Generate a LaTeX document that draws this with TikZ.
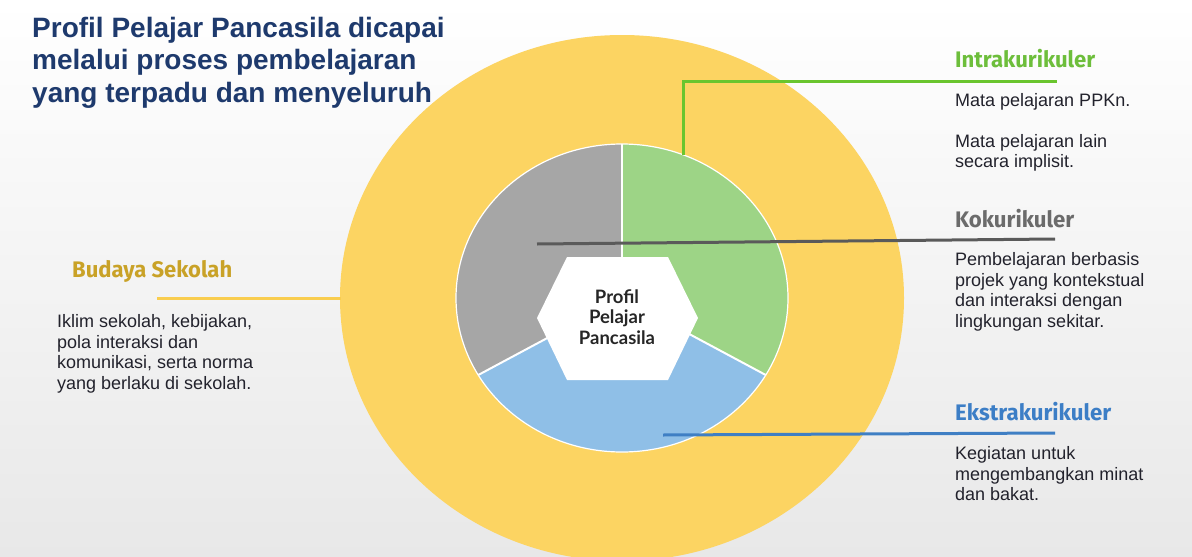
\documentclass[tikz,border=0pt]{standalone}
\usepackage{fontspec}
\usepackage{graphicx}
\setmainfont{Liberation Sans}
\newfontfamily\headfont{Fira Sans}
\newfontfamily\latofont{Lato}
\usetikzlibrary{calc}
\definecolor{ringyellow}{HTML}{FCD462}
\definecolor{piegreen}{HTML}{9DD486}
\definecolor{piegray}{HTML}{A6A6A6}
\definecolor{pieblue}{HTML}{8FBFE7}
\definecolor{lgreen}{HTML}{6AC52E}
\definecolor{lgray}{HTML}{5A5A5A}
\definecolor{lblue}{HTML}{3F7FC4}
\definecolor{lyellow}{HTML}{F9CD4F}
\definecolor{titleblue}{HTML}{1E3A6D}
\definecolor{hgreen}{HTML}{6DBE3B}
\definecolor{hgray}{HTML}{6B6B6B}
\definecolor{hblue}{HTML}{3C7EC6}
\definecolor{hgold}{HTML}{C9A227}
\definecolor{bodytext}{HTML}{22222C}
\tikzset{
  bodytxt/.style={anchor=north west, inner sep=0pt, align=left, text=bodytext,
    font=\fontsize{18}{20.8}\selectfont},
  headtxt/.style={anchor=base west, inner sep=0pt},
  connector/.style={line width=3pt},
  sector/.style={draw=white, line width=1.5pt}
}
\newcommand{\headtext}[3]{\resizebox{#1pt}{\height}{\headfont\bfseries\fontsize{22.5}{26}\selectfont\color{#2}#3}}
\begin{document}
\begin{tikzpicture}[x=1pt,y=1pt]
\useasboundingbox (0,0) rectangle (1192,-557);
\shade[top color=white, bottom color=black!9] (0,0) rectangle (1192,-557);
\begin{scope}
\clip (0,0) rectangle (1192,-557);
\fill[ringyellow] (622,-298) ellipse [x radius=282, y radius=263];
\end{scope}
% pie
\coordinate (pc) at (622,-298);
\fill[piegreen] (pc) -- ($(pc)+(90:166 and 154)$) arc[start angle=90, end angle=-30, x radius=166, y radius=154] -- cycle;
\fill[pieblue] (pc) -- ($(pc)+(-30:166 and 154)$) arc[start angle=-30, end angle=-150, x radius=166, y radius=154] -- cycle;
\fill[piegray] (pc) -- ($(pc)+(210:166 and 154)$) arc[start angle=210, end angle=90, x radius=166, y radius=154] -- cycle;
\draw[white, line width=1.2pt] (pc) ellipse [x radius=166, y radius=154];
\draw[white, line width=2pt] (pc) -- ($(pc)+(90:166 and 154)$);
\draw[white, line width=2pt] (pc) -- ($(pc)+(-30:166 and 154)$);
\draw[white, line width=2pt] (pc) -- ($(pc)+(210:166 and 154)$);
% hexagon
\fill[white] (537,-318) -- (567,-257) -- (668,-257) -- (698,-318) -- (668,-380) -- (567,-380) -- cycle;
\node[align=center, inner sep=0pt, text=black!85, font=\latofont\bfseries\fontsize{18.5}{20.5}\selectfont] (center) at (617,-317) {Profil\\Pelajar\\Pancasila};
% connector endpoints
\coordinate (gA) at (683,-155);
\coordinate (gB) at (1057,-81);
\coordinate (kA) at (537,-244);
\coordinate (kB) at (1055,-239);
\coordinate (eA) at (663,-435);
\coordinate (eB) at (1055,-433);
\coordinate (bA) at (157,-298);
\coordinate (bB) at (341,-298);
\draw[connector, lgreen] (gA) |- (gB);
\draw[connector, lgray] (kA) -- (kB);
\draw[connector, lblue] (eA) -- (eB);
\draw[connector, lyellow] (bA) -- (bB);
% title
\node[anchor=north west, inner sep=0pt, align=left, text=titleblue,
  font=\bfseries\fontsize{28}{32.5}\selectfont] (title) at (32,-17)
  {Profil Pelajar Pancasila dicapai\\melalui proses pembelajaran\\yang terpadu dan menyeluruh};
% headings
\node[headtxt] (intra) at (955,-67) {\headtext{140}{hgreen}{Intrakurikuler}};
\node[headtxt] (koku) at (955,-227) {\headtext{119}{hgray}{Kokurikuler}};
\node[headtxt] (ekstra) at (955,-420) {\headtext{156}{hblue}{Ekstrakurikuler}};
\node[headtxt] (budaya) at (72,-277) {\headtext{160}{hgold}{Budaya Sekolah}};
% bodies
\node[bodytxt] (intrab) at (955,-93) {Mata pelajaran PPKn.\\[20pt]Mata pelajaran lain\\secara implisit.};
\node[bodytxt] (kokub) at (955,-252) {Pembelajaran berbasis\\projek yang kontekstual\\dan interaksi dengan\\lingkungan sekitar.};
\node[bodytxt] (ekstrab) at (955,-446) {Kegiatan untuk\\mengembangkan minat\\dan bakat.};
\node[bodytxt] (budayab) at (57,-314) {Iklim sekolah, kebijakan,\\pola interaksi dan\\komunikasi, serta norma\\yang berlaku di sekolah.};
\end{tikzpicture}
\end{document}
